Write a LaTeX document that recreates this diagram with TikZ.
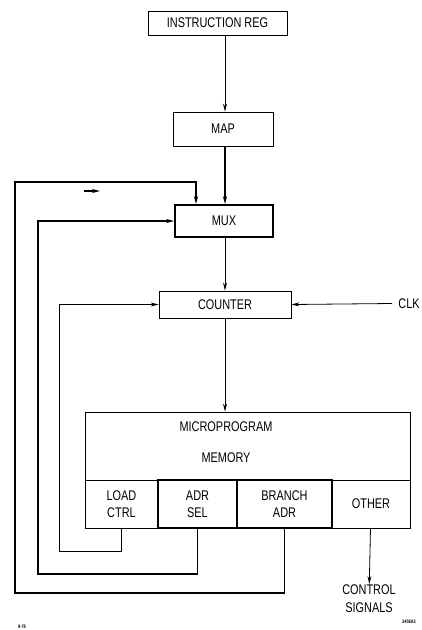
\documentclass[tikz,border=0pt]{standalone}
\usepackage{fontspec}
\setmainfont{Liberation Sans}[FakeStretch=0.78]
\usetikzlibrary{arrows.meta,positioning}

\begin{document}
\begin{tikzpicture}[x=1pt, y=-1pt, line width=0.8pt,
  >={Stealth[length=8pt,width=4pt]},
  blk/.style={rectangle, draw, inner sep=0pt, font=\fontsize{14}{16}\selectfont},
  cell/.style={blk, minimum height=48pt, align=center, font=\fontsize{14}{17}\selectfont},
  wide/.style={line width=1.6pt},
  txt/.style={font=\fontsize{14}{18}\selectfont, align=center, inner sep=0pt}]
\useasboundingbox (0,0) rectangle (422,630);

\node[blk, minimum width=139pt, minimum height=24pt] (ir) at (217.5,23) {INSTRUCTION REG};
\node[blk, minimum width=100pt, minimum height=34pt] (map) at (223,129) {MAP};
\node[blk, wide, minimum width=98pt, minimum height=32pt] (mux) at (224,221) {MUX};
\node[blk, minimum width=132pt, minimum height=27pt] (counter) at (225,304.5) {COUNTER};
\node[txt, anchor=west] (clk) at (398,303.5) {CLK};
\coordinate (col) at (225,0);

% microprogram memory
\node[blk, minimum width=325pt, minimum height=68pt] (mem) at (247.5,446) {};
\node[txt, font=\fontsize{14}{31}\selectfont] (memlbl) at (226,442) {MICROPROGRAM\\MEMORY};
\node[cell, minimum width=73pt] (load) at (121.5,504) {LOAD\\CTRL};
\node[cell, wide, minimum width=79pt] (adrsel) at (197.5,504) {ADR\\SEL};
\node[cell, wide, minimum width=95pt] (branch) at (284.5,504) {BRANCH\\ADR};
\node[cell, minimum width=78pt] (other) at (371,504) {OTHER};
\node[txt, anchor=north] (ctrl) at (369,584) {CONTROL\\SIGNALS};

\node[font=\fontsize{5}{6}\selectfont\bfseries] (date) at (22,627) {9-78};
\node[font=\fontsize{5}{6}\selectfont\bfseries] (fig) at (409,622) {3458A2};

\draw[->] (ir.south -| col) -- (map.north -| col);
\draw[wide,->] (map.south -| col) -- (mux.north -| col);
\draw[->] (mux.south -| col) -- (counter.north -| col);
\draw[->] (counter.south -| col) -- (mem.north -| col);
\draw[->] ([xshift=-6pt]clk.west) -- (counter.east);
\draw[->] (other) -- (ctrl);

% feedback paths
\draw[wide,->] (branch.south) -- ++(0,64) -| (15,182) -| ([xshift=-28pt]mux.north);
\draw[wide,->] (adrsel.south) -- ++(0,45) -| (38,221) -- (mux.west);
\draw[->] (load.south) -- ++(0,23) -| (59,304.5) -- (counter.west);
\draw[wide,->] (84,191) -- (100,191);
\end{tikzpicture}
\end{document}
